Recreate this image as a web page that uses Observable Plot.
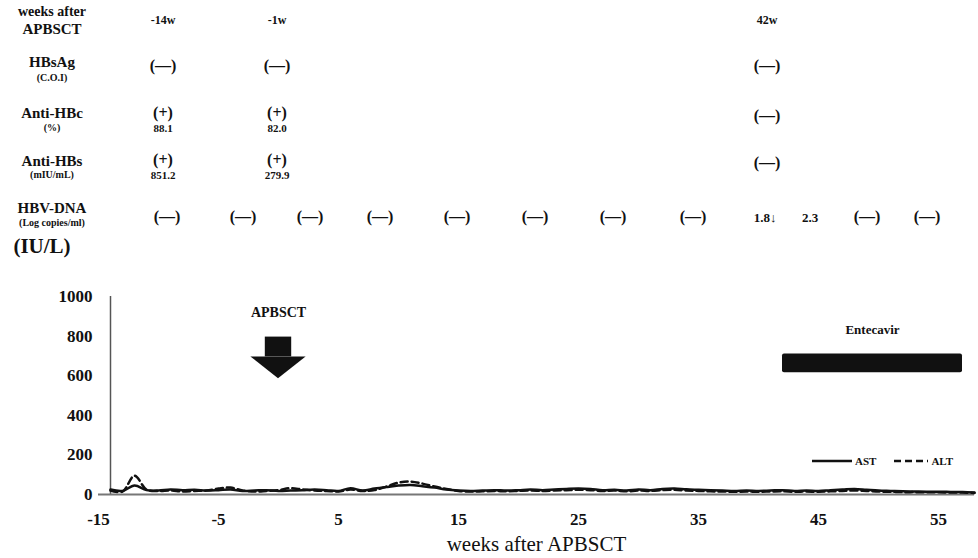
<!DOCTYPE html>
<html>
<head>
<meta charset="utf-8">
<script src="https://cdn.jsdelivr.net/npm/d3@7"></script>
<script src="https://cdn.jsdelivr.net/npm/@observablehq/plot@0.6"></script>
<style>
  body { margin: 0; background: #fff; }
  #wrap { position: relative; width: 978px; height: 558px; font-family: "Liberation Serif", "DejaVu Serif", serif; color: #111; }
  .t { position: absolute; transform: translate(-50%, -50%); white-space: nowrap; font-weight: bold; line-height: 1; }
  #chart { position: absolute; left: 0; top: 240px; }
</style>
</head>
<body>
<div id="wrap"><div id="chart"></div></div>
<script>
// ---------- data ----------
const weeks = [-14,-13,-12,-11,-10,-9,-8,-7,-6,-5,-4,-3,-2,-1,0,1,2,3,4,5,6,7,8,9,10,11,12,13,14,15,16,17,18,19,20,21,22,23,24,25,26,27,28,29,30,31,32,33,34,35,36,37,38,39,40,41,42,43,44,45,46,47,48,49,50,51,52,53,54,55,56,57,58];
const ast = [25,18,45,22,20,25,22,24,20,22,25,18,20,22,18,20,22,25,22,18,32,20,30,38,45,48,42,35,25,20,18,20,22,20,22,25,22,25,28,30,28,22,24,20,25,22,28,30,26,24,22,20,18,20,18,20,22,18,20,18,22,25,28,24,20,18,16,15,14,14,13,12,10];
const alt = [20,15,95,25,18,20,15,18,20,30,35,20,15,18,22,32,25,20,18,15,25,18,22,40,60,65,55,40,28,18,15,16,18,16,18,20,18,20,22,24,22,18,20,16,20,18,22,24,20,18,16,15,14,15,14,15,16,14,15,14,16,18,20,18,15,14,12,12,11,11,10,10,8];

const xTicks = [-15, -5, 5, 15, 25, 35, 45, 55];
const yTicks = [0, 200, 400, 600, 800, 1000];

const transplantWeek = [0];
const transplantLabel = ["APBSCT"];
const entecavir = [{start: 42, end: 57, label: "Entecavir"}];

const seriesNames = ["AST", "ALT"];

// table (above the chart)
const rowLabels = [["weeks after", "APBSCT"], ["HBsAg", "(C.O.I)"], ["Anti-HBc", "(%)"], ["Anti-HBs", "(mIU/mL)"], ["HBV-DNA", "(Log copies/ml)"]];
const tableWeeks = ["-14w", "-1w", "42w"];
const hbsAg = ["(\u2014)", "(\u2014)", "(\u2014)"];
const antiHBc = ["(+)", "(+)", "(\u2014)"];
const antiHBcValue = ["88.1", "82.0", ""];
const antiHBs = ["(+)", "(+)", "(\u2014)"];
const antiHBsValue = ["851.2", "279.9", ""];
const hbvDna = ["(\u2014)", "(\u2014)", "(\u2014)", "(\u2014)", "(\u2014)", "(\u2014)", "(\u2014)", "(\u2014)", "1.8\u2193", "2.3", "(\u2014)", "(\u2014)"];

// ---------- layout (not data) ----------
const labelX = 52;
const colX = [163, 277, 767];
const dnaX = [167, 243, 310, 380, 457, 535, 613, 693, 765, 810, 867, 927];
const rowY = [[12, 29], [62, 78], [113, 128], [161, 175], [208, 223]];

const wrap = document.getElementById("wrap");
function put(text, x, y, size, weight) {
  const d = document.createElement("div");
  d.className = "t";
  d.textContent = text;
  d.style.left = x + "px";
  d.style.top = y + "px";
  d.style.fontSize = size + "px";
  if (weight) d.style.fontWeight = weight;
  wrap.appendChild(d);
}
rowLabels.forEach((r, i) => {
  put(r[0], labelX, rowY[i][0], i === 0 ? 14 : 15);
  put(r[1], labelX, rowY[i][1], i === 0 ? 15 : 10);
});
tableWeeks.forEach((t, i) => put(t, colX[i], 20, 12));
hbsAg.forEach((t, i) => put(t, colX[i], 66, 16));
antiHBc.forEach((t, i) => put(t, colX[i], antiHBcValue[i] ? 113 : 116, 16));
antiHBcValue.forEach((t, i) => t && put(t, colX[i], 128, 11));
antiHBs.forEach((t, i) => put(t, colX[i], antiHBsValue[i] ? 160 : 163, 16));
antiHBsValue.forEach((t, i) => t && put(t, colX[i], 175, 11));
hbvDna.forEach((t, i) => put(t, dnaX[i], 217, t.startsWith("(") ? 16 : 13));
put("(IU/L)", 42, 246, 21, "bold");

// legend
const leg = document.createElement("div");
leg.style.cssText = "position:absolute;left:812px;top:455px;font-size:11px;font-weight:bold;display:flex;align-items:center;gap:3px;";
leg.innerHTML =
  `<svg width="40" height="6"><line x1="0" y1="3" x2="40" y2="3" stroke="#111" stroke-width="2.5"/></svg><span>${seriesNames[0]}</span>` +
  `<span style="width:12px"></span>` +
  `<svg width="34" height="6"><line x1="0" y1="3" x2="34" y2="3" stroke="#111" stroke-width="2.5" stroke-dasharray="7,4"/></svg><span>${seriesNames[1]}</span>`;
wrap.appendChild(leg);

// ---------- chart ----------
const rows = weeks.map((w, i) => ({week: w, ast: ast[i], alt: alt[i]}));
const arrowHalf = 2.3, shaftHalf = 1.1;
const head = [
  {x: transplantWeek[0] - arrowHalf, y1: 695, y2: 695},
  {x: transplantWeek[0], y1: 585, y2: 695},
  {x: transplantWeek[0] + arrowHalf, y1: 695, y2: 695}
];

const chart = Plot.plot({
  width: 978,
  height: 318,
  marginTop: 56,
  marginBottom: 64,
  marginLeft: 98,
  marginRight: 4,
  style: {fontFamily: "'Liberation Serif', serif", color: "#111", background: "#fff"},
  x: {domain: [-15, 58]},
  y: {domain: [0, 1000]},
  marks: [
    Plot.axisY({ticks: yTicks, tickSize: 0, tickPadding: 6, tickFormat: d => String(d), label: null, fontSize: 17, fontWeight: "bold"}),
    Plot.axisX({ticks: xTicks, tickSize: 0, tickPadding: 18, tickFormat: d => String(d), fontSize: 17, fontWeight: "bold",
      label: "weeks after APBSCT", labelAnchor: "center", labelArrow: "none", labelOffset: 56}),
    Plot.ruleX([weeks[0]], {y1: 0, y2: 1000, stroke: "#555", strokeWidth: 1.5}),
    Plot.ruleY([0], {stroke: "#777", strokeWidth: 2}),
    Plot.line(rows, {x: "week", y: "alt", stroke: "#111", strokeWidth: 2.5, strokeDasharray: "7,4", curve: "catmull-rom"}),
    Plot.line(rows, {x: "week", y: "ast", stroke: "#111", strokeWidth: 2.5, curve: "catmull-rom"}),
    Plot.rect(transplantWeek, {x1: d => d - shaftHalf, x2: d => d + shaftHalf, y1: 695, y2: 795, fill: "#111"}),
    Plot.areaY(head, {x: "x", y1: "y1", y2: "y2", fill: "#111"}),
    Plot.text(transplantLabel, {x: transplantWeek[0], y: 920, text: d => d, fontSize: 14, fontWeight: "bold"}),
    Plot.rect(entecavir, {x1: "start", x2: "end", y1: 615, y2: 710, fill: "#111", rx: 2}),
    Plot.text(entecavir, {x: d => (d.start + d.end) / 2, y: 830, text: "label", fontSize: 13, fontWeight: "bold"})
  ]
});
chart.querySelectorAll("text").forEach(t => {
  if (t.textContent === "weeks after APBSCT") { t.style.fontSize = "21px"; t.style.fontWeight = "normal"; }
});
document.getElementById("chart").appendChild(chart);
</script>
</body>
</html>
